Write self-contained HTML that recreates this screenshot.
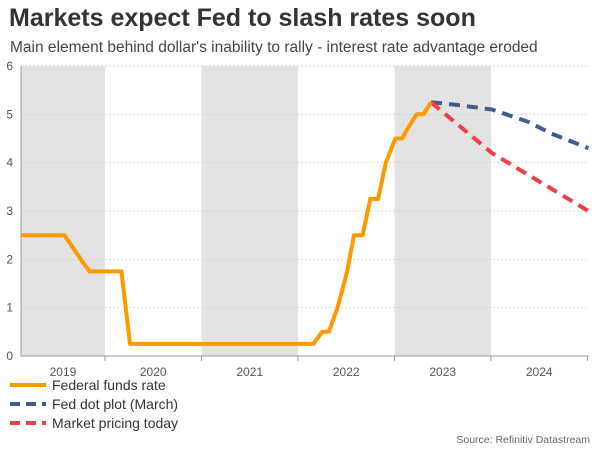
<!DOCTYPE html>
<html><head><meta charset="utf-8"><style>
body{margin:0;width:600px;height:450px;background:#fff;font-family:"Liberation Sans",sans-serif;overflow:hidden;position:relative}
.t{position:absolute;white-space:nowrap}
</style></head><body>
<div class="t" style="left:9px;top:4px;font-size:25px;font-weight:bold;color:#333">Markets expect Fed to slash rates soon</div>
<div class="t" style="left:10px;top:39px;font-size:15.5px;color:#444">Main element behind dollar's inability to rally - interest rate advantage eroded</div>
<svg id="c" width="600" height="450" style="position:absolute;left:0;top:0"></svg>
<div class="t" style="right:10px;top:434px;font-size:10.5px;color:#666">Source: Refinitiv Datastream</div>
<script>
const years=["2019","2020","2021","2022","2023","2024"];
const yTicks=[0,1,2,3,4,5,6];
const fedT=[0,0.45,0.62,0.71,1.04,1.13,3.03,3.12,3.19,3.28,3.38,3.45,3.54,3.62,3.7,3.78,3.88,3.95,4.02,4.1,4.17,4.25];
const fedV=[2.5,2.5,2.0,1.75,1.75,0.25,0.25,0.5,0.5,1.0,1.75,2.5,2.5,3.25,3.25,4.0,4.5,4.5,4.75,5.0,5.0,5.25];
const dotT=[4.25,4.5,4.88,5.25,5.5,5.88];
const dotV=[5.25,5.2,5.1,4.85,4.6,4.3];
const mktT=[4.25,4.88,5.88];
const mktV=[5.25,4.2,3.0];
const legendLabels=["Federal funds rate","Fed dot plot (March)","Market pricing today"];
const NS="http://www.w3.org/2000/svg",svg=document.getElementById('c');
const L=21,W=96.5,T=66,B=356,START=0.13,R=L+5.88*W;
const x=t=>L+t*W, y=v=>B-(v/6)*(B-T);
const yearX=i=>x(i-START);
function mk(tag,a,p){const e=document.createElementNS(NS,tag);for(const k in a)e.setAttribute(k,a[k]);(p||svg).appendChild(e);return e;}
years.forEach((yr,i)=>{
 const a=Math.max(L,yearX(i)),b=Math.min(R,yearX(i+1));
 if(i%2==0){const r=mk('rect',{x:a,y:T,width:b-a,height:B-T,fill:'#e3e3e3'});
 
 }
 const tx=mk('text',{x:(a+b)/2,y:B+20,'text-anchor':'middle','font-size':12,fill:'#555','font-family':'Liberation Sans'});tx.textContent=yr;
 
 
 mk('line',{x1:b,x2:b,y1:B,y2:B+5,stroke:'#999'});
});
yTicks.forEach(v=>{
 mk('line',{x1:L,x2:R,y1:y(v),y2:y(v),stroke:'#ccc','stroke-dasharray':'2,2','stroke-width':0.7});
 const tx=mk('text',{x:13,y:y(v)+4,'text-anchor':'end','font-size':12,fill:'#555','font-family':'Liberation Sans'});tx.textContent=v;
 
 
});
mk('line',{x1:L,x2:L,y1:T,y2:B,stroke:'#999'});
mk('line',{x1:L,x2:R,y1:B,y2:B,stroke:'#999'});
function path(ts,vs){return ts.map((t,i)=>(i?'L':'M')+x(t).toFixed(1)+','+y(vs[i]).toFixed(1)).join('');}
const p1=mk('path',{d:path(dotT,dotV),fill:'none',stroke:'#3d5f8a','stroke-width':4,'stroke-dasharray':'11,7'});


const p2=mk('path',{d:path(mktT,mktV),fill:'none',stroke:'#f23d45','stroke-width':4,'stroke-dasharray':'11,7'});


const p0=mk('path',{d:path(fedT,fedV),fill:'none',stroke:'#ff9900','stroke-width':4,'stroke-linejoin':'round'});


const lc=['#ff9900','#3d5f8a','#f23d45'];
legendLabels.forEach((lb,i)=>{
 const yy=385+i*19;
 const g=mk('g',{});
 
 
 mk('line',{x1:10,x2:46,y1:yy,y2:yy,stroke:lc[i],'stroke-width':4,'stroke-dasharray':i?'10,6':'none'},g);
 const tx=mk('text',{x:52,y:yy+5,'font-size':14,fill:'#333','font-family':'Liberation Sans'},g);tx.textContent=lb;
});
</script>
</body></html>
